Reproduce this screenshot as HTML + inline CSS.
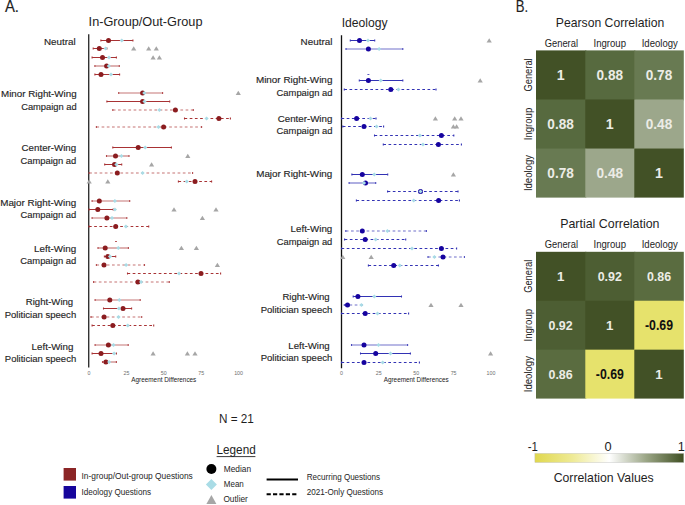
<!DOCTYPE html>
<html><head><meta charset="utf-8"><style>
html,body{margin:0;padding:0;background:#fff;}
svg{display:block;font-family:"Liberation Sans",sans-serif;}
text.l{stroke:#222;stroke-width:0.14px;}
text.h{stroke:#111;stroke-width:0.15px;}
</style></head><body>
<svg width="685" height="505" viewBox="0 0 685 505">
<rect width="685" height="505" fill="#fff"/>
<text x="4.9" y="11.9" font-size="16.8" textLength="14.1" lengthAdjust="spacingAndGlyphs" fill="#1e1e1e" class="h">A.</text>
<text x="515.7" y="12" font-size="16.8" textLength="12.4" lengthAdjust="spacingAndGlyphs" fill="#1e1e1e" class="h">B.</text>
<text x="88.6" y="26" font-size="12" textLength="113.9" lengthAdjust="spacingAndGlyphs" fill="#1e1e1e">In-Group/Out-Group</text>
<text x="341.7" y="26.7" font-size="12.2" textLength="46" lengthAdjust="spacingAndGlyphs" fill="#1e1e1e">Ideology</text>
<line x1="88.7" y1="34.3" x2="88.7" y2="367.6" stroke="#333" stroke-width="1.4"/>
<line x1="341.5" y1="35.2" x2="341.5" y2="368.3" stroke="#111" stroke-width="1.3"/>
<text x="44.0" y="45.4" font-size="9.6" textLength="31.7" lengthAdjust="spacingAndGlyphs" fill="#1e1e1e" class="l">Neutral</text>
<text x="1.0" y="97.0" font-size="9.6" textLength="75.6" lengthAdjust="spacingAndGlyphs" fill="#1e1e1e" class="l">Minor Right-Wing</text>
<text x="21.2" y="109.5" font-size="9.6" textLength="55.4" lengthAdjust="spacingAndGlyphs" fill="#1e1e1e" class="l">Campaign ad</text>
<text x="21.6" y="151.3" font-size="9.6" textLength="54.6" lengthAdjust="spacingAndGlyphs" fill="#1e1e1e" class="l">Center-Wing</text>
<text x="20.4" y="163.8" font-size="9.6" textLength="55.8" lengthAdjust="spacingAndGlyphs" fill="#1e1e1e" class="l">Campaign ad</text>
<text x="0.2" y="206.1" font-size="9.6" textLength="76.0" lengthAdjust="spacingAndGlyphs" fill="#1e1e1e" class="l">Major Right-Wing</text>
<text x="20.4" y="218.2" font-size="9.6" textLength="55.8" lengthAdjust="spacingAndGlyphs" fill="#1e1e1e" class="l">Campaign ad</text>
<text x="34.1" y="252.1" font-size="9.6" textLength="42.1" lengthAdjust="spacingAndGlyphs" fill="#1e1e1e" class="l">Left-Wing</text>
<text x="20.3" y="264.3" font-size="9.6" textLength="55.9" lengthAdjust="spacingAndGlyphs" fill="#1e1e1e" class="l">Campaign ad</text>
<text x="25.8" y="305.4" font-size="9.6" textLength="47.4" lengthAdjust="spacingAndGlyphs" fill="#1e1e1e" class="l">Right-Wing</text>
<text x="4.7" y="317.5" font-size="9.6" textLength="71.5" lengthAdjust="spacingAndGlyphs" fill="#1e1e1e" class="l">Politician speech</text>
<text x="31.6" y="349.8" font-size="9.6" textLength="41.8" lengthAdjust="spacingAndGlyphs" fill="#1e1e1e" class="l">Left-Wing</text>
<text x="4.8" y="362.0" font-size="9.6" textLength="71.4" lengthAdjust="spacingAndGlyphs" fill="#1e1e1e" class="l">Politician speech</text>
<text x="300.6" y="44.6" font-size="9.6" textLength="31.8" lengthAdjust="spacingAndGlyphs" fill="#1e1e1e" class="l">Neutral</text>
<text x="255.9" y="83.4" font-size="9.6" textLength="76.5" lengthAdjust="spacingAndGlyphs" fill="#1e1e1e" class="l">Minor Right-Wing</text>
<text x="276.6" y="96.0" font-size="9.6" textLength="55.8" lengthAdjust="spacingAndGlyphs" fill="#1e1e1e" class="l">Campaign ad</text>
<text x="277.7" y="121.5" font-size="9.6" textLength="54.7" lengthAdjust="spacingAndGlyphs" fill="#1e1e1e" class="l">Center-Wing</text>
<text x="276.6" y="134.0" font-size="9.6" textLength="55.8" lengthAdjust="spacingAndGlyphs" fill="#1e1e1e" class="l">Campaign ad</text>
<text x="256.2" y="177.3" font-size="9.6" textLength="76.1" lengthAdjust="spacingAndGlyphs" fill="#1e1e1e" class="l">Major Right-Wing</text>
<text x="290.6" y="232.2" font-size="9.6" textLength="41.7" lengthAdjust="spacingAndGlyphs" fill="#1e1e1e" class="l">Left-Wing</text>
<text x="276.7" y="244.7" font-size="9.6" textLength="55.6" lengthAdjust="spacingAndGlyphs" fill="#1e1e1e" class="l">Campaign ad</text>
<text x="282.4" y="300.0" font-size="9.6" textLength="47.3" lengthAdjust="spacingAndGlyphs" fill="#1e1e1e" class="l">Right-Wing</text>
<text x="260.7" y="313.0" font-size="9.6" textLength="71.6" lengthAdjust="spacingAndGlyphs" fill="#1e1e1e" class="l">Politician speech</text>
<text x="288.3" y="348.6" font-size="9.6" textLength="41.4" lengthAdjust="spacingAndGlyphs" fill="#1e1e1e" class="l">Left-Wing</text>
<text x="260.7" y="361.4" font-size="9.6" textLength="71.6" lengthAdjust="spacingAndGlyphs" fill="#1e1e1e" class="l">Politician speech</text>
<line x1="367.4" y1="74.5" x2="369.4" y2="74.5" stroke="#3232b4" stroke-width="0.8"/>
<line x1="115" y1="241.5" x2="117" y2="241.5" stroke="#a83234" stroke-width="0.8"/>
<line x1="100.9" y1="40.5" x2="132.9" y2="40.5" stroke="#a83234" stroke-width="1.0"/>
<line x1="100.9" y1="39.5" x2="100.9" y2="41.5" stroke="#a83234" stroke-width="1.1"/>
<line x1="132.9" y1="39.5" x2="132.9" y2="41.5" stroke="#a83234" stroke-width="1.1"/>
<circle cx="108.5" cy="40.5" r="2.5" fill="#8b1c1f"/>
<path d="M119.7 40.5L121.8 38.4L123.89999999999999 40.5L121.8 42.6Z" fill="#a9dce6"/>
<line x1="93.2" y1="48.5" x2="106.9" y2="48.5" stroke="#a83234" stroke-width="1.0"/>
<line x1="93.2" y1="47.5" x2="93.2" y2="49.5" stroke="#a83234" stroke-width="1.1"/>
<line x1="106.9" y1="47.5" x2="106.9" y2="49.5" stroke="#a83234" stroke-width="1.1"/>
<circle cx="99.3" cy="48.5" r="2.5" fill="#8b1c1f"/>
<path d="M103.5 48.5L105.6 46.4L107.69999999999999 48.5L105.6 50.6Z" fill="#a9dce6"/>
<path d="M131.1 50.6L133.7 46.2L136.29999999999998 50.6Z" fill="#a6a6a6"/>
<path d="M146.1 50.6L148.7 46.2L151.29999999999998 50.6Z" fill="#a6a6a6"/>
<path d="M153.70000000000002 50.6L156.3 46.2L158.9 50.6Z" fill="#a6a6a6"/>
<line x1="92.1" y1="57.5" x2="116.4" y2="57.5" stroke="#a83234" stroke-width="1.0"/>
<line x1="92.1" y1="56.5" x2="92.1" y2="58.5" stroke="#a83234" stroke-width="1.1"/>
<line x1="116.4" y1="56.5" x2="116.4" y2="58.5" stroke="#a83234" stroke-width="1.1"/>
<circle cx="102.5" cy="57.5" r="2.5" fill="#8b1c1f"/>
<path d="M106.9 57.5L109.0 55.4L111.1 57.5L109.0 59.6Z" fill="#a9dce6"/>
<path d="M150.5 59.6L153.1 55.2L155.7 59.6Z" fill="#a6a6a6"/>
<path d="M156.8 59.6L159.4 55.2L162.0 59.6Z" fill="#a6a6a6"/>
<line x1="94.9" y1="66.0" x2="119.3" y2="66.0" stroke="#d9a3a3" stroke-width="1.7"/>
<line x1="94.9" y1="65.0" x2="94.9" y2="67.0" stroke="#b24a4c" stroke-width="1.1"/>
<line x1="119.3" y1="65.0" x2="119.3" y2="67.0" stroke="#b24a4c" stroke-width="1.1"/>
<circle cx="106.6" cy="66.0" r="2.5" fill="#8b1c1f"/>
<path d="M106.7 66.0L108.8 63.9L110.89999999999999 66.0L108.8 68.1Z" fill="#a9dce6"/>
<line x1="94.9" y1="74.5" x2="119.6" y2="74.5" stroke="#a83234" stroke-width="1.0"/>
<line x1="94.9" y1="73.5" x2="94.9" y2="75.5" stroke="#a83234" stroke-width="1.1"/>
<line x1="119.6" y1="73.5" x2="119.6" y2="75.5" stroke="#a83234" stroke-width="1.1"/>
<circle cx="101.0" cy="74.5" r="2.5" fill="#8b1c1f"/>
<path d="M108.9 74.5L111.0 72.4L113.1 74.5L111.0 76.6Z" fill="#a9dce6"/>
<line x1="118.7" y1="93.0" x2="162.6" y2="93.0" stroke="#d9a3a3" stroke-width="1.7"/>
<line x1="118.7" y1="92.0" x2="118.7" y2="94.0" stroke="#b24a4c" stroke-width="1.1"/>
<line x1="162.6" y1="92.0" x2="162.6" y2="94.0" stroke="#b24a4c" stroke-width="1.1"/>
<circle cx="142.6" cy="93.0" r="2.5" fill="#8b1c1f"/>
<path d="M142.20000000000002 93.0L144.3 90.9L146.4 93.0L144.3 95.1Z" fill="#a9dce6"/>
<path d="M235.70000000000002 95.1L238.3 90.7L240.9 95.1Z" fill="#a6a6a6"/>
<line x1="106.9" y1="101.5" x2="169.7" y2="101.5" stroke="#a83234" stroke-width="1.0"/>
<line x1="106.9" y1="100.5" x2="106.9" y2="102.5" stroke="#a83234" stroke-width="1.1"/>
<line x1="169.7" y1="100.5" x2="169.7" y2="102.5" stroke="#a83234" stroke-width="1.1"/>
<circle cx="142.6" cy="101.5" r="2.5" fill="#8b1c1f"/>
<path d="M142.4 101.5L144.5 99.4L146.6 101.5L144.5 103.6Z" fill="#a9dce6"/>
<line x1="112.8" y1="110.0" x2="193.3" y2="110.0" stroke="#d9a3a3" stroke-width="1.7" stroke-dasharray="2.7 2.5"/>
<line x1="112.8" y1="109.0" x2="112.8" y2="111.0" stroke="#b24a4c" stroke-width="1.1"/>
<line x1="193.3" y1="109.0" x2="193.3" y2="111.0" stroke="#b24a4c" stroke-width="1.1"/>
<circle cx="175.4" cy="110.0" r="2.5" fill="#8b1c1f"/>
<path d="M157.3 110.0L159.4 107.9L161.5 110.0L159.4 112.1Z" fill="#a9dce6"/>
<line x1="184.5" y1="118.5" x2="230.4" y2="118.5" stroke="#a83234" stroke-width="1.0" stroke-dasharray="2.7 2.5"/>
<line x1="184.5" y1="117.5" x2="184.5" y2="119.5" stroke="#a83234" stroke-width="1.1"/>
<line x1="230.4" y1="117.5" x2="230.4" y2="119.5" stroke="#a83234" stroke-width="1.1"/>
<circle cx="218.9" cy="118.5" r="2.5" fill="#8b1c1f"/>
<path d="M204.5 118.5L206.6 116.4L208.7 118.5L206.6 120.6Z" fill="#a9dce6"/>
<line x1="96.4" y1="127.0" x2="201.6" y2="127.0" stroke="#d9a3a3" stroke-width="1.7" stroke-dasharray="2.7 2.5"/>
<line x1="96.4" y1="126.0" x2="96.4" y2="128.0" stroke="#b24a4c" stroke-width="1.1"/>
<line x1="201.6" y1="126.0" x2="201.6" y2="128.0" stroke="#b24a4c" stroke-width="1.1"/>
<circle cx="163.6" cy="127.0" r="2.5" fill="#8b1c1f"/>
<path d="M156.4 127.0L158.5 124.9L160.6 127.0L158.5 129.1Z" fill="#a9dce6"/>
<line x1="112.8" y1="147.5" x2="171.4" y2="147.5" stroke="#a83234" stroke-width="1.0"/>
<line x1="112.8" y1="146.5" x2="112.8" y2="148.5" stroke="#a83234" stroke-width="1.1"/>
<line x1="171.4" y1="146.5" x2="171.4" y2="148.5" stroke="#a83234" stroke-width="1.1"/>
<circle cx="138.2" cy="147.5" r="2.5" fill="#8b1c1f"/>
<path d="M143.1 147.5L145.2 145.4L147.29999999999998 147.5L145.2 149.6Z" fill="#a9dce6"/>
<line x1="106.5" y1="156.0" x2="129.0" y2="156.0" stroke="#d9a3a3" stroke-width="1.7"/>
<line x1="106.5" y1="155.0" x2="106.5" y2="157.0" stroke="#b24a4c" stroke-width="1.1"/>
<line x1="129.0" y1="155.0" x2="129.0" y2="157.0" stroke="#b24a4c" stroke-width="1.1"/>
<circle cx="115.5" cy="156.0" r="2.5" fill="#8b1c1f"/>
<path d="M119.30000000000001 156.0L121.4 153.9L123.5 156.0L121.4 158.1Z" fill="#a9dce6"/>
<path d="M185.20000000000002 158.1L187.8 153.7L190.4 158.1Z" fill="#a6a6a6"/>
<line x1="104.7" y1="164.5" x2="121.7" y2="164.5" stroke="#a83234" stroke-width="1.0"/>
<line x1="104.7" y1="163.5" x2="104.7" y2="165.5" stroke="#a83234" stroke-width="1.1"/>
<line x1="121.7" y1="163.5" x2="121.7" y2="165.5" stroke="#a83234" stroke-width="1.1"/>
<circle cx="114.5" cy="164.5" r="2.5" fill="#8b1c1f"/>
<path d="M114.30000000000001 164.5L116.4 162.4L118.5 164.5L116.4 166.6Z" fill="#a9dce6"/>
<path d="M149.0 166.6L151.6 162.2L154.2 166.6Z" fill="#a6a6a6"/>
<line x1="89.2" y1="173.0" x2="192.6" y2="173.0" stroke="#d9a3a3" stroke-width="1.7" stroke-dasharray="2.7 2.5"/>
<line x1="89.2" y1="172.0" x2="89.2" y2="174.0" stroke="#b24a4c" stroke-width="1.1"/>
<line x1="192.6" y1="172.0" x2="192.6" y2="174.0" stroke="#b24a4c" stroke-width="1.1"/>
<circle cx="117.3" cy="173.0" r="2.5" fill="#8b1c1f"/>
<path d="M140.5 173.0L142.6 170.9L144.7 173.0L142.6 175.1Z" fill="#a9dce6"/>
<line x1="178.4" y1="181.5" x2="211.6" y2="181.5" stroke="#a83234" stroke-width="1.0" stroke-dasharray="2.7 2.5"/>
<line x1="178.4" y1="180.5" x2="178.4" y2="182.5" stroke="#a83234" stroke-width="1.1"/>
<line x1="211.6" y1="180.5" x2="211.6" y2="182.5" stroke="#a83234" stroke-width="1.1"/>
<circle cx="195.0" cy="181.5" r="2.5" fill="#8b1c1f"/>
<path d="M184.70000000000002 181.5L186.8 179.4L188.9 181.5L186.8 183.6Z" fill="#a9dce6"/>
<path d="M86.60000000000001 183.6L89.2 179.2L91.8 183.6Z" fill="#a6a6a6"/>
<path d="M105.2 183.6L107.8 179.2L110.39999999999999 183.6Z" fill="#a6a6a6"/>
<line x1="92.1" y1="201.0" x2="129.7" y2="201.0" stroke="#d9a3a3" stroke-width="1.7"/>
<line x1="92.1" y1="200.0" x2="92.1" y2="202.0" stroke="#b24a4c" stroke-width="1.1"/>
<line x1="129.7" y1="200.0" x2="129.7" y2="202.0" stroke="#b24a4c" stroke-width="1.1"/>
<circle cx="99.3" cy="201.0" r="2.5" fill="#8b1c1f"/>
<path d="M112.80000000000001 201.0L114.9 198.9L117.0 201.0L114.9 203.1Z" fill="#a9dce6"/>
<line x1="89.0" y1="209.5" x2="113.2" y2="209.5" stroke="#a83234" stroke-width="1.0"/>
<line x1="89.0" y1="208.5" x2="89.0" y2="210.5" stroke="#a83234" stroke-width="1.1"/>
<line x1="113.2" y1="208.5" x2="113.2" y2="210.5" stroke="#a83234" stroke-width="1.1"/>
<circle cx="97.8" cy="209.5" r="2.5" fill="#8b1c1f"/>
<path d="M112.80000000000001 209.5L114.9 207.4L117.0 209.5L114.9 211.6Z" fill="#a9dce6"/>
<path d="M171.4 211.6L174.0 207.2L176.6 211.6Z" fill="#a6a6a6"/>
<path d="M213.4 211.6L216.0 207.2L218.6 211.6Z" fill="#a6a6a6"/>
<line x1="92.1" y1="218.0" x2="126.8" y2="218.0" stroke="#d9a3a3" stroke-width="1.7"/>
<line x1="92.1" y1="217.0" x2="92.1" y2="219.0" stroke="#b24a4c" stroke-width="1.1"/>
<line x1="126.8" y1="217.0" x2="126.8" y2="219.0" stroke="#b24a4c" stroke-width="1.1"/>
<circle cx="106.9" cy="218.0" r="2.5" fill="#8b1c1f"/>
<path d="M109.9 218.0L112.0 215.9L114.1 218.0L112.0 220.1Z" fill="#a9dce6"/>
<path d="M199.8 220.1L202.4 215.7L205.0 220.1Z" fill="#a6a6a6"/>
<line x1="89.0" y1="226.5" x2="148.7" y2="226.5" stroke="#a83234" stroke-width="1.0" stroke-dasharray="2.7 2.5"/>
<line x1="89.0" y1="225.5" x2="89.0" y2="227.5" stroke="#a83234" stroke-width="1.1"/>
<line x1="148.7" y1="225.5" x2="148.7" y2="227.5" stroke="#a83234" stroke-width="1.1"/>
<circle cx="115.7" cy="226.5" r="2.5" fill="#8b1c1f"/>
<path d="M123.80000000000001 226.5L125.9 224.4L128.0 226.5L125.9 228.6Z" fill="#a9dce6"/>
<line x1="98.0" y1="248.0" x2="128.4" y2="248.0" stroke="#d9a3a3" stroke-width="1.7"/>
<line x1="98.0" y1="247.0" x2="98.0" y2="249.0" stroke="#b24a4c" stroke-width="1.1"/>
<line x1="128.4" y1="247.0" x2="128.4" y2="249.0" stroke="#b24a4c" stroke-width="1.1"/>
<circle cx="105.2" cy="248.0" r="2.5" fill="#8b1c1f"/>
<path d="M116.2 248.0L118.3 245.9L120.39999999999999 248.0L118.3 250.1Z" fill="#a9dce6"/>
<path d="M178.8 250.1L181.4 245.7L184.0 250.1Z" fill="#a6a6a6"/>
<path d="M193.8 250.1L196.4 245.7L199.0 250.1Z" fill="#a6a6a6"/>
<line x1="104.4" y1="256.5" x2="115.7" y2="256.5" stroke="#a83234" stroke-width="1.0"/>
<line x1="104.4" y1="255.5" x2="104.4" y2="257.5" stroke="#a83234" stroke-width="1.1"/>
<line x1="115.7" y1="255.5" x2="115.7" y2="257.5" stroke="#a83234" stroke-width="1.1"/>
<circle cx="107.8" cy="256.5" r="2.5" fill="#8b1c1f"/>
<path d="M107.9 256.5L110.0 254.4L112.1 256.5L110.0 258.6Z" fill="#a9dce6"/>
<line x1="96.4" y1="265.0" x2="144.5" y2="265.0" stroke="#d9a3a3" stroke-width="1.7" stroke-dasharray="2.7 2.5"/>
<line x1="96.4" y1="264.0" x2="96.4" y2="266.0" stroke="#b24a4c" stroke-width="1.1"/>
<line x1="144.5" y1="264.0" x2="144.5" y2="266.0" stroke="#b24a4c" stroke-width="1.1"/>
<circle cx="104.0" cy="265.0" r="2.5" fill="#8b1c1f"/>
<path d="M124.0 265.0L126.1 262.9L128.2 265.0L126.1 267.1Z" fill="#a9dce6"/>
<path d="M214.8 267.1L217.4 262.7L220.0 267.1Z" fill="#a6a6a6"/>
<line x1="127.5" y1="273.5" x2="220.6" y2="273.5" stroke="#a83234" stroke-width="1.0" stroke-dasharray="2.7 2.5"/>
<line x1="127.5" y1="272.5" x2="127.5" y2="274.5" stroke="#a83234" stroke-width="1.1"/>
<line x1="220.6" y1="272.5" x2="220.6" y2="274.5" stroke="#a83234" stroke-width="1.1"/>
<circle cx="201.0" cy="273.5" r="2.5" fill="#8b1c1f"/>
<path d="M176.9 273.5L179.0 271.4L181.1 273.5L179.0 275.6Z" fill="#a9dce6"/>
<line x1="93.6" y1="282.0" x2="169.3" y2="282.0" stroke="#d9a3a3" stroke-width="1.7" stroke-dasharray="2.7 2.5"/>
<line x1="93.6" y1="281.0" x2="93.6" y2="283.0" stroke="#b24a4c" stroke-width="1.1"/>
<line x1="169.3" y1="281.0" x2="169.3" y2="283.0" stroke="#b24a4c" stroke-width="1.1"/>
<circle cx="137.9" cy="282.0" r="2.5" fill="#8b1c1f"/>
<path d="M139.0 282.0L141.1 279.9L143.2 282.0L141.1 284.1Z" fill="#a9dce6"/>
<line x1="95.1" y1="300.0" x2="140.2" y2="300.0" stroke="#d9a3a3" stroke-width="1.7"/>
<line x1="95.1" y1="299.0" x2="95.1" y2="301.0" stroke="#b24a4c" stroke-width="1.1"/>
<line x1="140.2" y1="299.0" x2="140.2" y2="301.0" stroke="#b24a4c" stroke-width="1.1"/>
<circle cx="109.8" cy="300.0" r="2.5" fill="#8b1c1f"/>
<path d="M117.2 300.0L119.3 297.9L121.39999999999999 300.0L119.3 302.1Z" fill="#a9dce6"/>
<line x1="103.5" y1="308.5" x2="131.6" y2="308.5" stroke="#a83234" stroke-width="1.0"/>
<line x1="103.5" y1="307.5" x2="103.5" y2="309.5" stroke="#a83234" stroke-width="1.1"/>
<line x1="131.6" y1="307.5" x2="131.6" y2="309.5" stroke="#a83234" stroke-width="1.1"/>
<circle cx="123.0" cy="308.5" r="2.5" fill="#8b1c1f"/>
<path d="M116.80000000000001 308.5L118.9 306.4L121.0 308.5L118.9 310.6Z" fill="#a9dce6"/>
<line x1="91.0" y1="317.0" x2="141.7" y2="317.0" stroke="#d9a3a3" stroke-width="1.7" stroke-dasharray="2.7 2.5"/>
<line x1="91.0" y1="316.0" x2="91.0" y2="318.0" stroke="#b24a4c" stroke-width="1.1"/>
<line x1="141.7" y1="316.0" x2="141.7" y2="318.0" stroke="#b24a4c" stroke-width="1.1"/>
<circle cx="104.1" cy="317.0" r="2.5" fill="#8b1c1f"/>
<path d="M116.4 317.0L118.5 314.9L120.6 317.0L118.5 319.1Z" fill="#a9dce6"/>
<line x1="92.1" y1="325.5" x2="153.7" y2="325.5" stroke="#a83234" stroke-width="1.0" stroke-dasharray="2.7 2.5"/>
<line x1="92.1" y1="324.5" x2="92.1" y2="326.5" stroke="#a83234" stroke-width="1.1"/>
<line x1="153.7" y1="324.5" x2="153.7" y2="326.5" stroke="#a83234" stroke-width="1.1"/>
<circle cx="112.8" cy="325.5" r="2.5" fill="#8b1c1f"/>
<path d="M125.7 325.5L127.8 323.4L129.9 325.5L127.8 327.6Z" fill="#a9dce6"/>
<line x1="95.1" y1="345.0" x2="128.2" y2="345.0" stroke="#d9a3a3" stroke-width="1.7"/>
<line x1="95.1" y1="344.0" x2="95.1" y2="346.0" stroke="#b24a4c" stroke-width="1.1"/>
<line x1="128.2" y1="344.0" x2="128.2" y2="346.0" stroke="#b24a4c" stroke-width="1.1"/>
<circle cx="108.4" cy="345.0" r="2.5" fill="#8b1c1f"/>
<path d="M111.4 345.0L113.5 342.9L115.6 345.0L113.5 347.1Z" fill="#a9dce6"/>
<line x1="92.1" y1="353.5" x2="116.4" y2="353.5" stroke="#a83234" stroke-width="1.0"/>
<line x1="92.1" y1="352.5" x2="92.1" y2="354.5" stroke="#a83234" stroke-width="1.1"/>
<line x1="116.4" y1="352.5" x2="116.4" y2="354.5" stroke="#a83234" stroke-width="1.1"/>
<circle cx="101.0" cy="353.5" r="2.5" fill="#8b1c1f"/>
<path d="M112.0 353.5L114.1 351.4L116.19999999999999 353.5L114.1 355.6Z" fill="#a9dce6"/>
<path d="M150.5 355.6L153.1 351.2L155.7 355.6Z" fill="#a6a6a6"/>
<path d="M184.8 355.6L187.4 351.2L190.0 355.6Z" fill="#a6a6a6"/>
<path d="M192.4 355.6L195.0 351.2L197.6 355.6Z" fill="#a6a6a6"/>
<line x1="102.5" y1="362.0" x2="116.4" y2="362.0" stroke="#d9a3a3" stroke-width="1.7"/>
<line x1="102.5" y1="361.0" x2="102.5" y2="363.0" stroke="#b24a4c" stroke-width="1.1"/>
<line x1="116.4" y1="361.0" x2="116.4" y2="363.0" stroke="#b24a4c" stroke-width="1.1"/>
<circle cx="105.9" cy="362.0" r="2.5" fill="#8b1c1f"/>
<path d="M107.10000000000001 362.0L109.2 359.9L111.3 362.0L109.2 364.1Z" fill="#a9dce6"/>
<line x1="350.3" y1="40.5" x2="374.7" y2="40.5" stroke="#3232b4" stroke-width="1.0"/>
<line x1="350.3" y1="39.5" x2="350.3" y2="41.5" stroke="#3232b4" stroke-width="1.1"/>
<line x1="374.7" y1="39.5" x2="374.7" y2="41.5" stroke="#3232b4" stroke-width="1.1"/>
<circle cx="359.5" cy="40.5" r="2.5" fill="#16039f"/>
<path d="M365.9 40.5L368.0 38.4L370.1 40.5L368.0 42.6Z" fill="#a9dce6"/>
<path d="M486.59999999999997 42.6L489.2 38.2L491.8 42.6Z" fill="#a6a6a6"/>
<line x1="346.0" y1="49.0" x2="402.8" y2="49.0" stroke="#a0a0dc" stroke-width="1.7"/>
<line x1="346.0" y1="48.0" x2="346.0" y2="50.0" stroke="#4a4abd" stroke-width="1.1"/>
<line x1="402.8" y1="48.0" x2="402.8" y2="50.0" stroke="#4a4abd" stroke-width="1.1"/>
<circle cx="368.4" cy="49.0" r="2.5" fill="#16039f"/>
<path d="M377.0 49.0L379.1 46.9L381.20000000000005 49.0L379.1 51.1Z" fill="#a9dce6"/>
<line x1="359.3" y1="80.5" x2="402.8" y2="80.5" stroke="#3232b4" stroke-width="1.0"/>
<line x1="359.3" y1="79.5" x2="359.3" y2="81.5" stroke="#3232b4" stroke-width="1.1"/>
<line x1="402.8" y1="79.5" x2="402.8" y2="81.5" stroke="#3232b4" stroke-width="1.1"/>
<circle cx="368.4" cy="80.5" r="2.5" fill="#16039f"/>
<path d="M378.7 80.5L380.8 78.4L382.90000000000003 80.5L380.8 82.6Z" fill="#a9dce6"/>
<path d="M477.59999999999997 82.6L480.2 78.2L482.8 82.6Z" fill="#a6a6a6"/>
<line x1="344.3" y1="89.5" x2="436.0" y2="89.5" stroke="#3232b4" stroke-width="1.0" stroke-dasharray="2.7 2.5"/>
<line x1="344.3" y1="88.5" x2="344.3" y2="90.5" stroke="#3232b4" stroke-width="1.1"/>
<line x1="436.0" y1="88.5" x2="436.0" y2="90.5" stroke="#3232b4" stroke-width="1.1"/>
<circle cx="390.8" cy="89.5" r="2.5" fill="#16039f"/>
<path d="M396.29999999999995 89.5L398.4 87.4L400.5 89.5L398.4 91.6Z" fill="#a9dce6"/>
<line x1="341.5" y1="118.5" x2="376.0" y2="118.5" stroke="#3232b4" stroke-width="1.0" stroke-dasharray="2.7 2.5"/>
<line x1="341.5" y1="117.5" x2="341.5" y2="119.5" stroke="#3232b4" stroke-width="1.1"/>
<line x1="376.0" y1="117.5" x2="376.0" y2="119.5" stroke="#3232b4" stroke-width="1.1"/>
<circle cx="356.6" cy="118.5" r="2.5" fill="#16039f"/>
<path d="M368.4 118.5L370.5 116.4L372.6 118.5L370.5 120.6Z" fill="#a9dce6"/>
<path d="M432.79999999999995 120.6L435.4 116.2L438.0 120.6Z" fill="#a6a6a6"/>
<path d="M452.09999999999997 120.6L454.7 116.2L457.3 120.6Z" fill="#a6a6a6"/>
<path d="M458.4 120.6L461.0 116.2L463.6 120.6Z" fill="#a6a6a6"/>
<line x1="342.8" y1="126.5" x2="383.6" y2="126.5" stroke="#3232b4" stroke-width="1.0" stroke-dasharray="2.7 2.5"/>
<line x1="342.8" y1="125.5" x2="342.8" y2="127.5" stroke="#3232b4" stroke-width="1.1"/>
<line x1="383.6" y1="125.5" x2="383.6" y2="127.5" stroke="#3232b4" stroke-width="1.1"/>
<circle cx="364.0" cy="126.5" r="2.5" fill="#16039f"/>
<path d="M374.5 126.5L376.6 124.4L378.70000000000005 126.5L376.6 128.6Z" fill="#a9dce6"/>
<path d="M450.79999999999995 128.6L453.4 124.2L456.0 128.6Z" fill="#a6a6a6"/>
<path d="M454.0 128.6L456.6 124.2L459.20000000000005 128.6Z" fill="#a6a6a6"/>
<line x1="374.5" y1="135.5" x2="453.8" y2="135.5" stroke="#3232b4" stroke-width="1.0" stroke-dasharray="2.7 2.5"/>
<line x1="374.5" y1="134.5" x2="374.5" y2="136.5" stroke="#3232b4" stroke-width="1.1"/>
<line x1="453.8" y1="134.5" x2="453.8" y2="136.5" stroke="#3232b4" stroke-width="1.1"/>
<circle cx="441.4" cy="135.5" r="2.5" fill="#16039f"/>
<path d="M417.79999999999995 135.5L419.9 133.4L422.0 135.5L419.9 137.6Z" fill="#a9dce6"/>
<line x1="383.3" y1="144.5" x2="461.4" y2="144.5" stroke="#3232b4" stroke-width="1.0" stroke-dasharray="2.7 2.5"/>
<line x1="383.3" y1="143.5" x2="383.3" y2="145.5" stroke="#3232b4" stroke-width="1.1"/>
<line x1="461.4" y1="143.5" x2="461.4" y2="145.5" stroke="#3232b4" stroke-width="1.1"/>
<circle cx="438.4" cy="144.5" r="2.5" fill="#16039f"/>
<path d="M420.9 144.5L423.0 142.4L425.1 144.5L423.0 146.6Z" fill="#a9dce6"/>
<line x1="351.9" y1="174.5" x2="387.7" y2="174.5" stroke="#3232b4" stroke-width="1.0"/>
<line x1="351.9" y1="173.5" x2="351.9" y2="175.5" stroke="#3232b4" stroke-width="1.1"/>
<line x1="387.7" y1="173.5" x2="387.7" y2="175.5" stroke="#3232b4" stroke-width="1.1"/>
<circle cx="362.3" cy="174.5" r="2.5" fill="#16039f"/>
<path d="M372.2 174.5L374.3 172.4L376.40000000000003 174.5L374.3 176.6Z" fill="#a9dce6"/>
<path d="M450.79999999999995 176.6L453.4 172.2L456.0 176.6Z" fill="#a6a6a6"/>
<line x1="349.1" y1="183.0" x2="375.7" y2="183.0" stroke="#a0a0dc" stroke-width="1.7"/>
<line x1="349.1" y1="182.0" x2="349.1" y2="184.0" stroke="#4a4abd" stroke-width="1.1"/>
<line x1="375.7" y1="182.0" x2="375.7" y2="184.0" stroke="#4a4abd" stroke-width="1.1"/>
<circle cx="365.5" cy="183.0" r="2.5" fill="#16039f"/>
<path d="M361.9 183.0L364.0 180.9L366.1 183.0L364.0 185.1Z" fill="#a9dce6"/>
<line x1="387.6" y1="191.5" x2="458.0" y2="191.5" stroke="#3232b4" stroke-width="1.0" stroke-dasharray="2.7 2.5"/>
<line x1="387.6" y1="190.5" x2="387.6" y2="192.5" stroke="#3232b4" stroke-width="1.1"/>
<line x1="458.0" y1="190.5" x2="458.0" y2="192.5" stroke="#3232b4" stroke-width="1.1"/>
<circle cx="420.5" cy="191.5" r="2.5" fill="#16039f"/>
<path d="M418.4 191.5L420.5 189.4L422.6 191.5L420.5 193.6Z" fill="#a9dce6"/>
<line x1="356.4" y1="200.5" x2="459.4" y2="200.5" stroke="#3232b4" stroke-width="1.0" stroke-dasharray="2.7 2.5"/>
<line x1="356.4" y1="199.5" x2="356.4" y2="201.5" stroke="#3232b4" stroke-width="1.1"/>
<line x1="459.4" y1="199.5" x2="459.4" y2="201.5" stroke="#3232b4" stroke-width="1.1"/>
<circle cx="438.6" cy="200.5" r="2.5" fill="#16039f"/>
<path d="M411.59999999999997 200.5L413.7 198.4L415.8 200.5L413.7 202.6Z" fill="#a9dce6"/>
<line x1="345.8" y1="231.0" x2="426.4" y2="231.0" stroke="#a0a0dc" stroke-width="1.7" stroke-dasharray="2.7 2.5"/>
<line x1="345.8" y1="230.0" x2="345.8" y2="232.0" stroke="#4a4abd" stroke-width="1.1"/>
<line x1="426.4" y1="230.0" x2="426.4" y2="232.0" stroke="#4a4abd" stroke-width="1.1"/>
<circle cx="362.3" cy="231.0" r="2.5" fill="#16039f"/>
<path d="M385.29999999999995 231.0L387.4 228.9L389.5 231.0L387.4 233.1Z" fill="#a9dce6"/>
<line x1="344.6" y1="239.5" x2="405.7" y2="239.5" stroke="#3232b4" stroke-width="1.0" stroke-dasharray="2.7 2.5"/>
<line x1="344.6" y1="238.5" x2="344.6" y2="240.5" stroke="#3232b4" stroke-width="1.1"/>
<line x1="405.7" y1="238.5" x2="405.7" y2="240.5" stroke="#3232b4" stroke-width="1.1"/>
<circle cx="365.2" cy="239.5" r="2.5" fill="#16039f"/>
<path d="M373.59999999999997 239.5L375.7 237.4L377.8 239.5L375.7 241.6Z" fill="#a9dce6"/>
<line x1="341.5" y1="248.5" x2="456.6" y2="248.5" stroke="#3232b4" stroke-width="1.0" stroke-dasharray="2.7 2.5"/>
<line x1="341.5" y1="247.5" x2="341.5" y2="249.5" stroke="#3232b4" stroke-width="1.1"/>
<line x1="456.6" y1="247.5" x2="456.6" y2="249.5" stroke="#3232b4" stroke-width="1.1"/>
<circle cx="441.4" cy="248.5" r="2.5" fill="#16039f"/>
<path d="M409.9 248.5L412.0 246.4L414.1 248.5L412.0 250.6Z" fill="#a9dce6"/>
<line x1="428.0" y1="257.0" x2="464.4" y2="257.0" stroke="#a0a0dc" stroke-width="1.7" stroke-dasharray="2.7 2.5"/>
<line x1="428.0" y1="256.0" x2="428.0" y2="258.0" stroke="#4a4abd" stroke-width="1.1"/>
<line x1="464.4" y1="256.0" x2="464.4" y2="258.0" stroke="#4a4abd" stroke-width="1.1"/>
<circle cx="443.0" cy="257.0" r="2.5" fill="#16039f"/>
<path d="M432.29999999999995 257.0L434.4 254.9L436.5 257.0L434.4 259.1Z" fill="#a9dce6"/>
<path d="M340.2 259.1L342.8 254.7L345.40000000000003 259.1Z" fill="#a6a6a6"/>
<path d="M368.59999999999997 259.1L371.2 254.7L373.8 259.1Z" fill="#a6a6a6"/>
<line x1="368.4" y1="265.5" x2="438.4" y2="265.5" stroke="#3232b4" stroke-width="1.0" stroke-dasharray="2.7 2.5"/>
<line x1="368.4" y1="264.5" x2="368.4" y2="266.5" stroke="#3232b4" stroke-width="1.1"/>
<line x1="438.4" y1="264.5" x2="438.4" y2="266.5" stroke="#3232b4" stroke-width="1.1"/>
<circle cx="393.7" cy="265.5" r="2.5" fill="#16039f"/>
<path d="M397.7 265.5L399.8 263.4L401.90000000000003 265.5L399.8 267.6Z" fill="#a9dce6"/>
<line x1="353.2" y1="296.5" x2="401.5" y2="296.5" stroke="#3232b4" stroke-width="1.0"/>
<line x1="353.2" y1="295.5" x2="353.2" y2="297.5" stroke="#3232b4" stroke-width="1.1"/>
<line x1="401.5" y1="295.5" x2="401.5" y2="297.5" stroke="#3232b4" stroke-width="1.1"/>
<circle cx="357.9" cy="296.5" r="2.5" fill="#16039f"/>
<path d="M372.2 296.5L374.3 294.4L376.40000000000003 296.5L374.3 298.6Z" fill="#a9dce6"/>
<line x1="344.3" y1="305.0" x2="362.0" y2="305.0" stroke="#a0a0dc" stroke-width="1.7" stroke-dasharray="2.7 2.5"/>
<line x1="344.3" y1="304.0" x2="344.3" y2="306.0" stroke="#4a4abd" stroke-width="1.1"/>
<line x1="362.0" y1="304.0" x2="362.0" y2="306.0" stroke="#4a4abd" stroke-width="1.1"/>
<circle cx="347.5" cy="305.0" r="2.5" fill="#16039f"/>
<path d="M359.29999999999995 305.0L361.4 302.9L363.5 305.0L361.4 307.1Z" fill="#a9dce6"/>
<path d="M428.4 307.1L431.0 302.7L433.6 307.1Z" fill="#a6a6a6"/>
<path d="M458.4 307.1L461.0 302.7L463.6 307.1Z" fill="#a6a6a6"/>
<line x1="341.5" y1="313.5" x2="408.6" y2="313.5" stroke="#3232b4" stroke-width="1.0" stroke-dasharray="2.7 2.5"/>
<line x1="341.5" y1="312.5" x2="341.5" y2="314.5" stroke="#3232b4" stroke-width="1.1"/>
<line x1="408.6" y1="312.5" x2="408.6" y2="314.5" stroke="#3232b4" stroke-width="1.1"/>
<circle cx="365.2" cy="313.5" r="2.5" fill="#16039f"/>
<path d="M375.4 313.5L377.5 311.4L379.6 313.5L377.5 315.6Z" fill="#a9dce6"/>
<line x1="351.5" y1="345.0" x2="407.6" y2="345.0" stroke="#a0a0dc" stroke-width="1.7"/>
<line x1="351.5" y1="344.0" x2="351.5" y2="346.0" stroke="#4a4abd" stroke-width="1.1"/>
<line x1="407.6" y1="344.0" x2="407.6" y2="346.0" stroke="#4a4abd" stroke-width="1.1"/>
<circle cx="364.0" cy="345.0" r="2.5" fill="#16039f"/>
<path d="M376.4 345.0L378.5 342.9L380.6 345.0L378.5 347.1Z" fill="#a9dce6"/>
<line x1="360.5" y1="353.5" x2="410.4" y2="353.5" stroke="#3232b4" stroke-width="1.0"/>
<line x1="360.5" y1="352.5" x2="360.5" y2="354.5" stroke="#3232b4" stroke-width="1.1"/>
<line x1="410.4" y1="352.5" x2="410.4" y2="354.5" stroke="#3232b4" stroke-width="1.1"/>
<circle cx="375.7" cy="353.5" r="2.5" fill="#16039f"/>
<path d="M388.4 353.5L390.5 351.4L392.6 353.5L390.5 355.6Z" fill="#a9dce6"/>
<path d="M488.0 355.6L490.6 351.2L493.20000000000005 355.6Z" fill="#a6a6a6"/>
<line x1="341.5" y1="362.5" x2="419.4" y2="362.5" stroke="#3232b4" stroke-width="1.0" stroke-dasharray="2.7 2.5"/>
<line x1="341.5" y1="361.5" x2="341.5" y2="363.5" stroke="#3232b4" stroke-width="1.1"/>
<line x1="419.4" y1="361.5" x2="419.4" y2="363.5" stroke="#3232b4" stroke-width="1.1"/>
<circle cx="364.0" cy="362.5" r="2.5" fill="#16039f"/>
<path d="M380.59999999999997 362.5L382.7 360.4L384.8 362.5L382.7 364.6Z" fill="#a9dce6"/>
<text x="89.0" y="374.8" font-size="5.3" text-anchor="middle" fill="#6e6e6e">0</text>
<text x="126.4" y="374.8" font-size="5.3" text-anchor="middle" fill="#6e6e6e">25</text>
<text x="163.8" y="374.8" font-size="5.3" text-anchor="middle" fill="#6e6e6e">50</text>
<text x="201.2" y="374.8" font-size="5.3" text-anchor="middle" fill="#6e6e6e">75</text>
<text x="238.6" y="374.8" font-size="5.3" text-anchor="middle" fill="#6e6e6e">100</text>
<text x="163.8" y="382.2" font-size="6.8" text-anchor="middle" textLength="65" lengthAdjust="spacingAndGlyphs" fill="#222">Agreement Differences</text>
<text x="341.4" y="374.8" font-size="5.3" text-anchor="middle" fill="#6e6e6e">0</text>
<text x="378.79999999999995" y="374.8" font-size="5.3" text-anchor="middle" fill="#6e6e6e">25</text>
<text x="416.2" y="374.8" font-size="5.3" text-anchor="middle" fill="#6e6e6e">50</text>
<text x="453.59999999999997" y="374.8" font-size="5.3" text-anchor="middle" fill="#6e6e6e">75</text>
<text x="491.0" y="374.8" font-size="5.3" text-anchor="middle" fill="#6e6e6e">100</text>
<text x="416.2" y="382.2" font-size="6.8" text-anchor="middle" textLength="65" lengthAdjust="spacingAndGlyphs" fill="#222">Agreement Differences</text>
<text x="219" y="422.8" font-size="12" textLength="34.8" lengthAdjust="spacingAndGlyphs" fill="#1e1e1e">N = 21</text>
<text x="216.5" y="453.9" font-size="12.2" textLength="39.2" lengthAdjust="spacingAndGlyphs" fill="#1e1e1e">Legend</text>
<line x1="216.6" y1="456.6" x2="255.4" y2="456.6" stroke="#222" stroke-width="0.9"/>
<rect x="63.6" y="468" width="12.4" height="12.6" fill="#8b2526"/>
<rect x="63.6" y="486" width="12.4" height="12.6" fill="#16059c"/>
<text x="81.5" y="478.8" font-size="8.8" textLength="111.3" lengthAdjust="spacingAndGlyphs" fill="#1e1e1e">In-group/Out-group Questions</text>
<text x="81.5" y="495.2" font-size="8.8" textLength="69.5" lengthAdjust="spacingAndGlyphs" fill="#1e1e1e">Ideology Questions</text>
<circle cx="211.4" cy="469" r="5" fill="#000"/>
<path d="M211.4 478.9L216.9 484.4L211.4 489.9L205.9 484.4Z" fill="#a9dce6"/>
<path d="M206.4 504L211.4 495L216.4 504Z" fill="#a6a6a6"/>
<text x="223.8" y="471.7" font-size="9" textLength="27.3" lengthAdjust="spacingAndGlyphs" fill="#1e1e1e">Median</text>
<text x="223.8" y="486.8" font-size="9" textLength="20" lengthAdjust="spacingAndGlyphs" fill="#1e1e1e">Mean</text>
<text x="223.4" y="502" font-size="9" textLength="24.5" lengthAdjust="spacingAndGlyphs" fill="#1e1e1e">Outlier</text>
<line x1="266.6" y1="479.5" x2="298" y2="479.5" stroke="#000" stroke-width="2"/>
<line x1="266.6" y1="494.2" x2="298" y2="494.2" stroke="#000" stroke-width="2" stroke-dasharray="4.2 2.2"/>
<text x="306.8" y="479.5" font-size="8.7" textLength="73.3" lengthAdjust="spacingAndGlyphs" fill="#1e1e1e">Recurring Questions</text>
<text x="306.8" y="494.6" font-size="8.7" textLength="76.2" lengthAdjust="spacingAndGlyphs" fill="#1e1e1e">2021-Only Questions</text>
<text x="555.8" y="27.4" font-size="12.2" textLength="108.4" lengthAdjust="spacingAndGlyphs" fill="#1e1e1e">Pearson Correlation</text>
<rect x="536.0" y="50.4" width="50.3" height="50.07" fill="#425126"/>
<rect x="585.3" y="50.4" width="50.0" height="50.07" fill="#576a3f"/>
<rect x="634.3" y="50.4" width="49.5" height="50.07" fill="#687a52"/>
<rect x="536.0" y="99.47" width="50.3" height="50.07" fill="#576a3f"/>
<rect x="585.3" y="99.47" width="50.0" height="50.07" fill="#425126"/>
<rect x="634.3" y="99.47" width="49.5" height="50.07" fill="#9ca78b"/>
<rect x="536.0" y="148.54" width="50.3" height="49.07" fill="#687a52"/>
<rect x="585.3" y="148.54" width="50.0" height="49.07" fill="#9ca78b"/>
<rect x="634.3" y="148.54" width="49.5" height="49.07" fill="#425126"/>
<text x="560.6" y="80.1" font-size="14.2" text-anchor="middle" font-weight="bold" fill="#ecece6">1</text>
<text x="609.8" y="80.1" font-size="14.2" text-anchor="middle" textLength="26.5" lengthAdjust="spacingAndGlyphs" font-weight="bold" fill="#ecece6">0.88</text>
<text x="659.0" y="80.1" font-size="14.2" text-anchor="middle" textLength="26.5" lengthAdjust="spacingAndGlyphs" font-weight="bold" fill="#ecece6">0.78</text>
<text x="560.6" y="129.2" font-size="14.2" text-anchor="middle" textLength="26.5" lengthAdjust="spacingAndGlyphs" font-weight="bold" fill="#ecece6">0.88</text>
<text x="609.8" y="129.2" font-size="14.2" text-anchor="middle" font-weight="bold" fill="#ecece6">1</text>
<text x="659.0" y="129.2" font-size="14.2" text-anchor="middle" textLength="26.5" lengthAdjust="spacingAndGlyphs" font-weight="bold" fill="#ecece6">0.48</text>
<text x="560.6" y="178.3" font-size="14.2" text-anchor="middle" textLength="26.5" lengthAdjust="spacingAndGlyphs" font-weight="bold" fill="#ecece6">0.78</text>
<text x="609.8" y="178.3" font-size="14.2" text-anchor="middle" textLength="26.5" lengthAdjust="spacingAndGlyphs" font-weight="bold" fill="#ecece6">0.48</text>
<text x="659.0" y="178.3" font-size="14.2" text-anchor="middle" font-weight="bold" fill="#ecece6">1</text>
<text x="560.2" y="228.3" font-size="12.2" textLength="99.3" lengthAdjust="spacingAndGlyphs" fill="#1e1e1e">Partial Correlation</text>
<rect x="536.0" y="251.8" width="50.3" height="49.93" fill="#425126"/>
<rect x="585.3" y="251.8" width="50.0" height="49.93" fill="#4d5e33"/>
<rect x="634.3" y="251.8" width="49.5" height="49.93" fill="#5a6c40"/>
<rect x="536.0" y="300.73" width="50.3" height="49.93" fill="#4d5e33"/>
<rect x="585.3" y="300.73" width="50.0" height="49.93" fill="#425126"/>
<rect x="634.3" y="300.73" width="49.5" height="49.93" fill="#e6e26c"/>
<rect x="536.0" y="349.66" width="50.3" height="48.93" fill="#5a6c40"/>
<rect x="585.3" y="349.66" width="50.0" height="48.93" fill="#e6e26c"/>
<rect x="634.3" y="349.66" width="49.5" height="48.93" fill="#425126"/>
<text x="560.6" y="280.8" font-size="13.3" text-anchor="middle" font-weight="bold" fill="#ecece6">1</text>
<text x="609.8" y="280.8" font-size="13.3" text-anchor="middle" textLength="24.2" lengthAdjust="spacingAndGlyphs" font-weight="bold" fill="#ecece6">0.92</text>
<text x="659.0" y="280.8" font-size="13.3" text-anchor="middle" textLength="24.2" lengthAdjust="spacingAndGlyphs" font-weight="bold" fill="#ecece6">0.86</text>
<text x="560.6" y="329.7" font-size="13.3" text-anchor="middle" textLength="24.2" lengthAdjust="spacingAndGlyphs" font-weight="bold" fill="#ecece6">0.92</text>
<text x="609.8" y="329.7" font-size="13.3" text-anchor="middle" font-weight="bold" fill="#ecece6">1</text>
<text x="659.0" y="329.7" font-size="14" text-anchor="middle" textLength="28" lengthAdjust="spacingAndGlyphs" font-weight="bold" fill="#111">-0.69</text>
<text x="560.6" y="378.6" font-size="13.3" text-anchor="middle" textLength="24.2" lengthAdjust="spacingAndGlyphs" font-weight="bold" fill="#ecece6">0.86</text>
<text x="609.8" y="378.6" font-size="14" text-anchor="middle" textLength="28" lengthAdjust="spacingAndGlyphs" font-weight="bold" fill="#111">-0.69</text>
<text x="659.0" y="378.6" font-size="13.3" text-anchor="middle" font-weight="bold" fill="#ecece6">1</text>
<text x="544.8" y="46.8" font-size="10" textLength="33.2" lengthAdjust="spacingAndGlyphs" fill="#1e1e1e">General</text>
<text x="593.5" y="46.8" font-size="10" textLength="32.5" lengthAdjust="spacingAndGlyphs" fill="#1e1e1e">Ingroup</text>
<text x="641.7" y="46.8" font-size="10" textLength="36.1" lengthAdjust="spacingAndGlyphs" fill="#1e1e1e">Ideology</text>
<text x="544.8" y="248.0" font-size="10" textLength="33.2" lengthAdjust="spacingAndGlyphs" fill="#1e1e1e">General</text>
<text x="593.5" y="248.0" font-size="10" textLength="32.5" lengthAdjust="spacingAndGlyphs" fill="#1e1e1e">Ingroup</text>
<text x="641.7" y="248.0" font-size="10" textLength="36.1" lengthAdjust="spacingAndGlyphs" fill="#1e1e1e">Ideology</text>
<text x="0" y="0" font-size="10" text-anchor="middle" textLength="33.2" lengthAdjust="spacingAndGlyphs" fill="#1e1e1e" transform="translate(531.6,74.935) rotate(-90)">General</text>
<text x="0" y="0" font-size="10" text-anchor="middle" textLength="32.5" lengthAdjust="spacingAndGlyphs" fill="#1e1e1e" transform="translate(531.6,124.005) rotate(-90)">Ingroup</text>
<text x="0" y="0" font-size="10" text-anchor="middle" textLength="36.1" lengthAdjust="spacingAndGlyphs" fill="#1e1e1e" transform="translate(531.6,173.075) rotate(-90)">Ideology</text>
<text x="0" y="0" font-size="10" text-anchor="middle" textLength="33.2" lengthAdjust="spacingAndGlyphs" fill="#1e1e1e" transform="translate(531.6,276.265) rotate(-90)">General</text>
<text x="0" y="0" font-size="10" text-anchor="middle" textLength="32.5" lengthAdjust="spacingAndGlyphs" fill="#1e1e1e" transform="translate(531.6,325.195) rotate(-90)">Ingroup</text>
<text x="0" y="0" font-size="10" text-anchor="middle" textLength="36.1" lengthAdjust="spacingAndGlyphs" fill="#1e1e1e" transform="translate(531.6,374.125) rotate(-90)">Ideology</text>
<defs><linearGradient id="cb" x1="0" x2="1" y1="0" y2="0">
<stop offset="0" stop-color="#e0d84e"/><stop offset="0.25" stop-color="#eeea95"/><stop offset="0.5" stop-color="#ffffff"/><stop offset="0.75" stop-color="#9aa585"/><stop offset="1" stop-color="#3f4f22"/></linearGradient></defs>
<rect x="534.9" y="453.4" width="148.9" height="9.1" fill="url(#cb)" stroke="#bbb" stroke-width="0.4"/>
<text x="527.8" y="450.6" font-size="12.8" textLength="10.2" lengthAdjust="spacingAndGlyphs" fill="#1e1e1e">-1</text>
<text x="608" y="450.6" font-size="12.8" text-anchor="middle" fill="#1e1e1e">0</text>
<text x="681.4" y="450.6" font-size="12.8" text-anchor="middle" fill="#1e1e1e">1</text>
<text x="553.7" y="481.8" font-size="12.6" textLength="100" lengthAdjust="spacingAndGlyphs" fill="#1e1e1e">Correlation Values</text>
</svg></body></html>
